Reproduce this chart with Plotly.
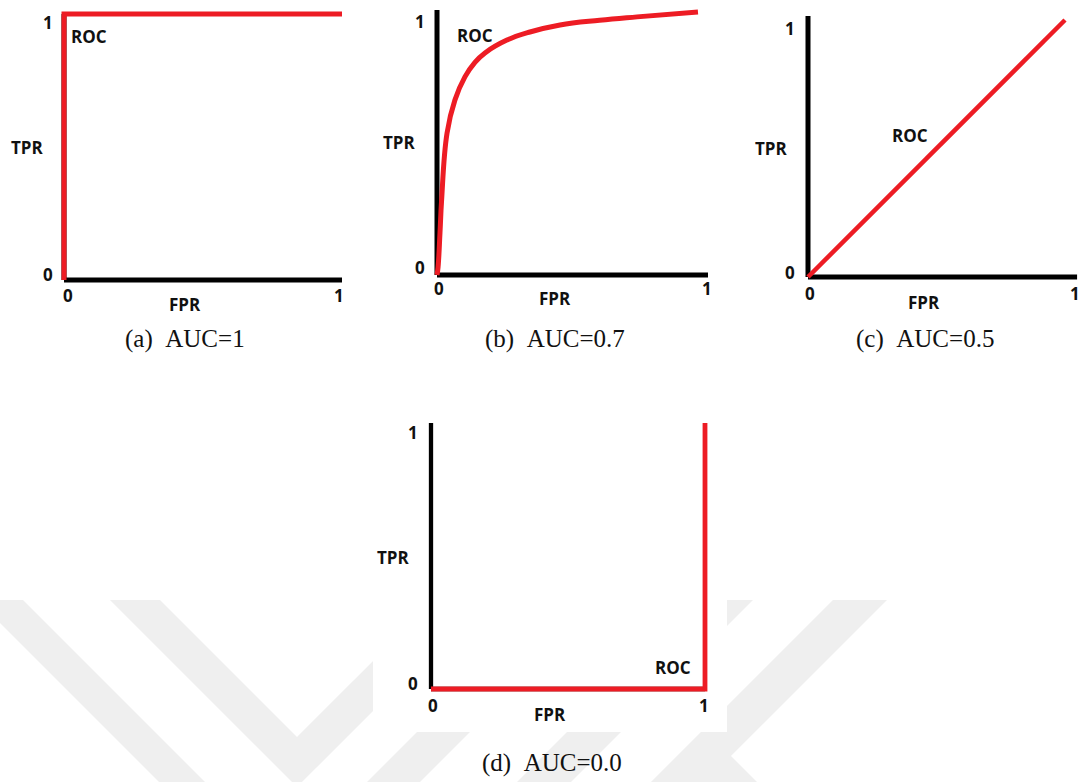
import plotly.graph_objects as go

W, H = 1092, 782
RED = "#ED1C24"
BLACK = "#000000"
WM_COLOR = "#efefef"

# ---------------- data ----------------
fpr_a = [0, 0, 1]
tpr_a = [0, 1, 1]

fpr_b = [0, 0.004, 0.011, 0.017, 0.037, 0.066, 0.103, 0.140, 0.177, 0.258, 0.343, 0.454, 0.600, 0.738, 0.963]
tpr_b = [0, 0.031, 0.161, 0.287, 0.544, 0.670, 0.759, 0.815, 0.851, 0.900, 0.931, 0.958, 0.976, 0.989, 1.008]

fpr_c = [0, 1]
tpr_c = [0, 1]

fpr_d = [0, 1, 1]
tpr_d = [0, 0, 1]

captions = ["(a)\u00a0\u00a0AUC=1", "(b)\u00a0\u00a0AUC=0.7", "(c)\u00a0\u00a0AUC=0.5", "(d)\u00a0\u00a0AUC=0.0"]
tick_labels = ["0", "1"]
x_title, y_title, curve_name = "FPR", "TPR", "ROC"

# ---------------- panel geometry (pixels) ----------------
panels = [
    dict(fpr=fpr_a, tpr=tpr_a, ox=64, oy=280, sx=278, sy=266, xend=1.0, yend=1.0,
         axw=5, rocw=5, shape="linear",
         lab=dict(y1=(48, 22), y0=(48, 274), x0=(68, 295), x1=(339, 295),
                  fpr=(185, 304), tpr=(27, 147), roc=(89, 36)),
         cap=(185, 339)),
    dict(fpr=fpr_b, tpr=tpr_b, ox=437, oy=275, sx=271, sy=261, xend=1.0, yend=1.015,
         axw=5, rocw=5, shape="spline",
         lab=dict(y1=(420, 21), y0=(420, 267), x0=(439, 288), x1=(707, 288),
                  fpr=(555, 298), tpr=(399, 142), roc=(475, 35)),
         cap=(555, 339)),
    dict(fpr=fpr_c, tpr=tpr_c, ox=808, oy=277, sx=257, sy=257, xend=1.047, yend=1.016,
         axw=5, rocw=4.5, shape="linear",
         lab=dict(y1=(790, 28), y0=(790, 272), x0=(810, 293), x1=(1075, 293),
                  fpr=(924, 302), tpr=(771, 148), roc=(910, 135)),
         cap=(925, 339)),
    dict(fpr=fpr_d, tpr=tpr_d, ox=431, oy=689, sx=274, sy=266, xend=1.0, yend=1.0,
         axw=4.3, rocw=4.8, shape="linear",
         lab=dict(y1=(413, 432), y0=(413, 683), x0=(433, 705), x1=(704, 705),
                  fpr=(550, 714), tpr=(393, 557), roc=(673, 667)),
         cap=(552, 763)),
]

watermark = [
    [(0, 600), (23, 600), (205, 782), (159, 782), (0, 623)],
    [(110, 600), (160, 600), (297, 737), (373, 661), (373, 711), (302, 782), (292, 782)],
    [(549, 600), (602, 600), (420, 782), (367, 782)],
    [(699, 600), (753, 600), (571, 782), (517, 782)],
    [(833, 600), (887, 600), (731, 756), (757, 782), (651, 782)],
]
panel_d_bg = (373, 400, 727, 732)


def px(x):
    return x / W


def py(y):
    return 1 - y / H


fig = go.Figure()
layout = dict(
    width=W, height=H, autosize=False,
    margin=dict(l=0, r=0, t=0, b=0, pad=0),
    paper_bgcolor="white", plot_bgcolor="rgba(0,0,0,0)",
    showlegend=False,
)
annotations = []
shapes = []

# watermark (faint chevrons)
for poly in watermark:
    path = "M " + " L ".join(f"{px(x):.5f},{py(y):.5f}" for x, y in poly) + " Z"
    shapes.append(dict(type="path", xref="paper", yref="paper", path=path,
                       fillcolor=WM_COLOR, line=dict(width=0), layer="below"))
x0b, y0b, x1b, y1b = panel_d_bg
shapes.append(dict(type="rect", xref="paper", yref="paper",
                   x0=px(x0b), x1=px(x1b), y0=py(y1b), y1=py(y0b),
                   fillcolor="white", line=dict(width=0), layer="below"))

label_font = dict(family="Open Sans, Lato, sans-serif", size=17, color="#111111")
cap_font = dict(family="Liberation Serif, Times New Roman, serif", size=25, color="#111111")

for i, p in enumerate(panels, start=1):
    ox, oy, sx, sy = p["ox"], p["oy"], p["sx"], p["sy"]
    left = max(0, ox - 40)
    right = min(W, ox + sx * p["xend"] + 20)
    top = max(0, oy - sy * p["yend"] - 20)
    bottom = min(H, oy + 30)
    xr = [(left - ox) / sx, (right - ox) / sx]
    yr = [(oy - bottom) / sy, (oy - top) / sy]
    sfx = "" if i == 1 else str(i)
    xa, ya = "x" + sfx, "y" + sfx
    layout["xaxis" + sfx] = dict(domain=[px(left), px(right)], range=xr, anchor=ya,
                                 visible=False, fixedrange=True)
    layout["yaxis" + sfx] = dict(domain=[py(bottom), py(top)], range=yr, anchor=xa,
                                 visible=False, fixedrange=True)

    # black axes
    fig.add_trace(go.Scatter(x=[0, p["xend"]], y=[0, 0], mode="lines", xaxis=xa, yaxis=ya,
                             line=dict(color=BLACK, width=p["axw"]), hoverinfo="skip"))
    fig.add_trace(go.Scatter(x=[0, 0], y=[0, p["yend"]], mode="lines", xaxis=xa, yaxis=ya,
                             line=dict(color=BLACK, width=p["axw"]), hoverinfo="skip"))
    # ROC curve
    line = dict(color=RED, width=p["rocw"], shape=p["shape"])
    if p["shape"] == "spline":
        line["smoothing"] = 1.2
    fig.add_trace(go.Scatter(x=p["fpr"], y=p["tpr"], mode="lines", xaxis=xa, yaxis=ya,
                             line=line, name=curve_name, hoverinfo="skip"))

    def to_data(pt):
        return (pt[0] - ox) / sx, (oy - pt[1]) / sy

    texts = dict(y1=tick_labels[1], y0=tick_labels[0], x0=tick_labels[0], x1=tick_labels[1],
                 fpr=x_title, tpr=y_title, roc=curve_name)
    for key, txt in texts.items():
        dx, dy = to_data(p["lab"][key])
        annotations.append(dict(x=dx, y=dy, xref=xa, yref=ya, text=f"<b>{txt}</b>",
                                showarrow=False, xanchor="center", yanchor="middle",
                                font=label_font))
    cx, cy = p["cap"]
    annotations.append(dict(x=px(cx), y=py(cy), xref="paper", yref="paper",
                            text=captions[i - 1], showarrow=False,
                            xanchor="center", yanchor="middle", font=cap_font))

layout["annotations"] = annotations
layout["shapes"] = shapes
fig.update_layout(**layout)

fig.write_html("out.html", config=dict(displayModeBar=False, staticPlot=True),
               post_script="document.body.style.margin='0';document.body.style.overflow='hidden';")
